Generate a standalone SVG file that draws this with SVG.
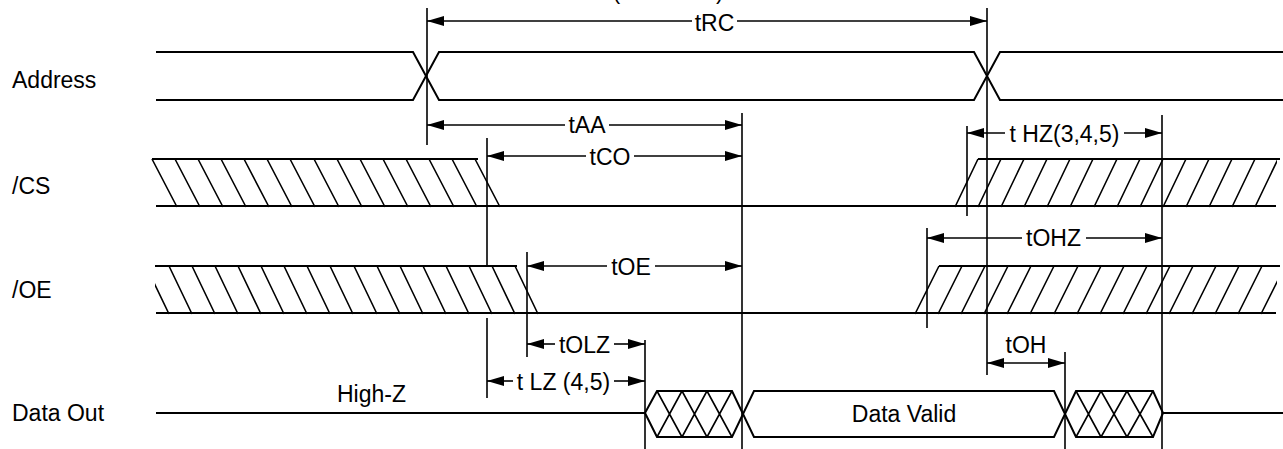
<svg xmlns="http://www.w3.org/2000/svg" width="1283" height="449" viewBox="0 0 1283 449">
<style>
text{font-family:"Liberation Sans",Arial,sans-serif;font-size:23px;fill:#000}
.sig{fill:none;stroke:#000;stroke-width:2;stroke-linecap:butt}
.h{fill:none;stroke:#000;stroke-width:1.6}
.v{stroke:#000;stroke-width:1.6}
.dim{stroke:#000;stroke-width:1.6;fill:none}
.s{marker-start:url(#ah)}
.e{marker-end:url(#ah)}
.m{text-anchor:middle}
</style>
<defs>
<marker id="ah" viewBox="0 0 17 10" refX="17" refY="5" markerWidth="17" markerHeight="10" markerUnits="userSpaceOnUse" orient="auto-start-reverse">
<path d="M0,0 L17,5 L0,10 z" fill="#000"/>
</marker>
<clipPath id="cr"><rect x="0" y="0" width="1277" height="449"/></clipPath>
<clipPath id="cl"><rect x="155" y="0" width="1128" height="449"/></clipPath>
</defs>

<text x="668" y="-1.5" class="m">(Note 1&amp;2)</text>

<g id="address">
<text x="12" y="88">Address</text>
<path class="sig" d="M156,52 H413 L439,100 H974 L1000,52 H1283 M156,100 H413 L439,52 H974 L1000,100 H1283"/>
</g>

<g id="cs">
<text x="12" y="194">/CS</text>
<path class="sig" d="M152,159 H478 M156,206 H1276 M978,159 H1280"/>
<path class="h" d="M152,159 L177,207 M175,159 L200,207 M198,159 L223,207 M221,159 L246,207 M244,159 L269,207 M267,159 L292,207 M290,159 L315,207 M314,159 L339,207 M337,159 L362,207 M360,159 L385,207 M383,159 L408,207 M406,159 L431,207 M429,159 L454,207 M452,159 L477,207 M475,159 L500,207"/>
<path class="h" clip-path="url(#cr)" d="M955,207 L978,159 M978,207 L1001,159 M1001,207 L1024,159 M1024,207 L1047,159 M1047,207 L1070,159 M1070,207 L1093,159 M1094,207 L1117,159 M1117,207 L1140,159 M1140,207 L1163,159 M1163,207 L1186,159 M1186,207 L1209,159 M1209,207 L1232,159 M1232,207 L1255,159 M1255,207 L1278,159"/>
</g>

<g id="oe">
<text x="12" y="298">/OE</text>
<path class="sig" d="M155,266 H517 M156,313 H1276 M939,266 H1280"/>
<path class="h" clip-path="url(#cl)" d="M146,266 L169,314 M169,266 L192,314 M192,266 L215,314 M215,266 L238,314 M238,266 L261,314 M261,266 L284,314 M284,266 L307,314 M307,266 L330,314 M330,266 L353,314 M354,266 L377,314 M377,266 L400,314 M400,266 L423,314 M423,266 L446,314 M446,266 L469,314 M469,266 L492,314 M492,266 L515,314 M515,266 L538,314"/>
<path class="h" clip-path="url(#cr)" d="M915,314 L939,266 M938,314 L962,266 M961,314 L985,266 M984,314 L1008,266 M1007,314 L1031,266 M1030,314 L1054,266 M1054,314 L1078,266 M1077,314 L1101,266 M1100,314 L1124,266 M1123,314 L1147,266 M1146,314 L1170,266 M1169,314 L1193,266 M1192,314 L1216,266 M1215,314 L1239,266 M1238,314 L1262,266 M1261,314 L1285,266"/>
</g>

<g id="dataout">
<text x="12" y="421">Data Out</text>
<text x="337" y="402">High-Z</text>
<path class="sig" d="M156,413 H645 L657,391 H732 L754,437 H1054 L1076,391 H1153 L1163,413 H1283 M645,413 L657,437 H732 L754,391 H1054 L1076,437 H1153 L1163,413"/>
<path class="h" d="M657,391 L682,437 M657,437 L682,391 M682,391 L707,437 M682,437 L707,391 M707,391 L732,437 M707,437 L732,391 M1076,391 L1101,437 M1076,437 L1101,391 M1101,391 L1127,437 M1101,437 L1127,391 M1127,391 L1153,437 M1127,437 L1153,391"/>
<text x="904" y="422" class="m">Data Valid</text>
</g>

<g id="connectors">
<g id="markers">
<line class="v" x1="427" y1="8" x2="427" y2="145"/>
<line class="v" x1="487" y1="138" x2="487" y2="266"/>
<line class="v" x1="487" y1="318" x2="487" y2="398"/>
<line class="v" x1="527" y1="252" x2="527" y2="357"/>
<line class="v" x1="645" y1="340" x2="645" y2="449"/>
<line class="v" x1="742" y1="113" x2="742" y2="449"/>
<line class="v" x1="967" y1="126" x2="967" y2="216"/>
<line class="v" x1="987" y1="8" x2="987" y2="375"/>
<line class="v" x1="927" y1="228" x2="927" y2="328"/>
<line class="v" x1="1065" y1="352" x2="1065" y2="449"/>
<line class="v" x1="1162" y1="115" x2="1162" y2="449"/>
</g>
<g id="tRC">
<line class="dim s" x1="427" y1="21" x2="692" y2="21"/><line class="dim e" x1="737" y1="21" x2="987" y2="21"/>
<text x="714.5" y="31" class="m">tRC</text>
</g>
<g id="tAA">
<line class="dim s" x1="427" y1="125" x2="565" y2="125"/><line class="dim e" x1="609" y1="125" x2="742" y2="125"/>
<text x="587" y="133" class="m">tAA</text>
</g>
<g id="tCO">
<line class="dim s" x1="487" y1="156" x2="586" y2="156"/><line class="dim e" x1="634" y1="156" x2="742" y2="156"/>
<text x="610" y="165" class="m">tCO</text>
</g>
<g id="tHZ">
<line class="dim s" x1="967" y1="133" x2="1005" y2="133"/><line class="dim e" x1="1124" y1="133" x2="1162" y2="133"/>
<text x="1064.5" y="142" class="m">t HZ(3,4,5)</text>
</g>
<g id="tOHZ">
<line class="dim s" x1="927" y1="238" x2="1022" y2="238"/><line class="dim e" x1="1086" y1="238" x2="1162" y2="238"/>
<text x="1053.5" y="246" class="m">tOHZ</text>
</g>
<g id="tOE">
<line class="dim s" x1="527" y1="266" x2="607" y2="266"/><line class="dim e" x1="655" y1="266" x2="742" y2="266"/>
<text x="631" y="275" class="m">tOE</text>
</g>
<g id="tOLZ">
<line class="dim s" x1="527" y1="344" x2="555" y2="344"/><line class="dim e" x1="614" y1="344" x2="645" y2="344"/>
<text x="584.5" y="353" class="m">tOLZ</text>
</g>
<g id="tLZ">
<line class="dim s" x1="487" y1="381" x2="513" y2="381"/><line class="dim e" x1="614" y1="381" x2="645" y2="381"/>
<text x="563.5" y="390" class="m">t LZ (4,5)</text>
</g>
<g id="tOH">
<line class="dim s e" x1="987" y1="363" x2="1065" y2="363"/>
<text x="1026" y="353" class="m">tOH</text>
</g>
</g>
</svg>
